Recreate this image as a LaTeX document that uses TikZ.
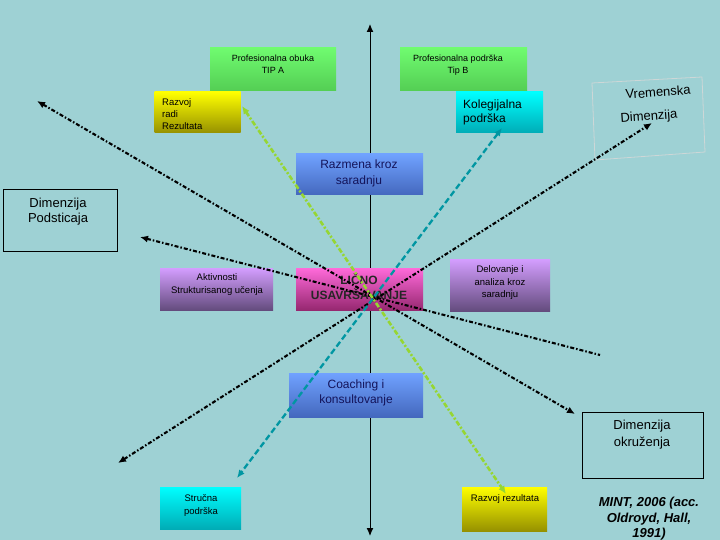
\documentclass[tikz,border=0pt]{standalone}
\usepackage{fontspec}
\setmainfont{Liberation Sans}
\usepackage{tikz}
\usetikzlibrary{arrows.meta,positioning}
\definecolor{bg}{RGB}{158,209,212}
\definecolor{grntop}{RGB}{112,252,112}
\definecolor{grnbot}{RGB}{84,206,84}
\definecolor{yeltop}{RGB}{255,255,0}
\definecolor{yelbot}{RGB}{150,145,0}
\definecolor{cyntop}{RGB}{0,255,255}
\definecolor{cynbot}{RGB}{0,172,182}
\definecolor{blutop}{RGB}{112,162,255}
\definecolor{blubot}{RGB}{68,104,190}
\definecolor{purtop}{RGB}{212,158,255}
\definecolor{purbot}{RGB}{100,76,126}
\definecolor{pnktop}{RGB}{255,106,218}
\definecolor{pnkbot}{RGB}{150,40,112}
\definecolor{limeln}{RGB}{150,214,50}
\definecolor{tealln}{RGB}{0,150,162}
\definecolor{frame}{RGB}{205,215,215}
\definecolor{navy}{RGB}{20,20,90}

\begin{document}
\begin{tikzpicture}[x=1pt, y=-1pt, >={Latex[length=8pt,width=7pt]},
  box/.style={inner sep=0pt, outer sep=0pt},
  grnbox/.style={box, top color=grntop, bottom color=grnbot},
  yelbox/.style={box, top color=yeltop, bottom color=yelbot},
  cynbox/.style={box, top color=cyntop, bottom color=cynbot},
  blubox/.style={box, top color=blutop, bottom color=blubot},
  purbox/.style={box, top color=purtop, bottom color=purbot},
  pnkbox/.style={box, top color=pnktop, bottom color=pnkbot},
  dimbox/.style={box, draw=black, line width=0.8pt},
  txt/.style={anchor=north, inner sep=0pt, align=center},
  dimln/.style={line width=2.1pt, dash pattern=on 4pt off 2pt on 1.5pt off 2pt},
]
  % background
  \fill[bg] (0,0) rectangle (720,540);
  \useasboundingbox (0,0) rectangle (720,540);
  % vertical axis
  \coordinate (vtop) at (370,24);
  \coordinate (vbot) at (370,536);
  \draw[line width=1pt, <->] (vtop) -- (vbot);
  % boxes
  \node[grnbox, minimum width=126pt, minimum height=43pt] (obuka) at (273,69) {};
  \node[txt, font=\fontsize{9}{12}\selectfont] (obukat) at (273,54.7) {Profesionalna obuka\\TIP A};
  \node[grnbox, minimum width=127pt, minimum height=43pt] (podrska) at (463.5,69) {};
  \node[txt, font=\fontsize{9}{12}\selectfont] (podrskat) at (458,54.7) {Profesionalna podrška\\Tip B};
  \node[yelbox, minimum width=86pt, minimum height=41pt] (razvojradi) at (197.5,112.5) {};
  \node[txt, anchor=north west, align=left, font=\fontsize{9.5}{12}\selectfont] (razvojradit) at (162,98.5) {Razvoj\\radi\\Rezultata};
  \node[cynbox, minimum width=87pt, minimum height=41pt] (kolegij) at (499.5,112.5) {};
  \node[txt, anchor=north west, align=left, font=\fontsize{12}{14}\selectfont] (kolegijt) at (463,99.6) {Kolegijalna\\podrška};
  \node[blubox, minimum width=127pt, minimum height=41pt] (razmena) at (359.5,174.5) {};
  \node[txt, text=navy, font=\fontsize{12}{16}\selectfont] (razmenat) at (359,159.6) {Razmena kroz\\saradnju};
  \node[dimbox, minimum width=114pt, minimum height=62pt] (podst) at (60,220) {};
  \node[txt, font=\fontsize{13}{14.5}\selectfont] (podstt) at (58,198) {Dimenzija\\Podsticaja};
  \node[purbox, minimum width=113pt, minimum height=42pt] (aktiv) at (216.5,289) {};
  \node[txt, font=\fontsize{9.5}{13}\selectfont] (aktivt) at (217,273.5) {Aktivnosti\\Strukturisanog učenja};
  \node[pnkbox, minimum width=127pt, minimum height=42pt] (licno) at (359.5,289) {};
  \node[txt, text=black!85, font=\bfseries\fontsize{12}{15}\selectfont] (licnot) at (359,273.6) {LIČNO\\USAVRŠAVANJE};
  \node[purbox, minimum width=100pt, minimum height=52pt] (delov) at (500,285) {};
  \node[txt, font=\fontsize{9.5}{12.5}\selectfont] (delovt) at (500,265.5) {Delovanje i\\analiza kroz\\saradnju};
  \node[blubox, minimum width=134pt, minimum height=44pt] (coach) at (356,395) {};
  \node[txt, text=navy, font=\fontsize{12}{15}\selectfont] (coacht) at (356,379.6) {Coaching i\\konsultovanje};
  \node[dimbox, minimum width=121pt, minimum height=66pt] (okruz) at (642.5,445) {};
  \node[txt, font=\fontsize{13}{17}\selectfont] (okruzt) at (642,420) {Dimenzija\\okruženja};
  \node[cynbox, minimum width=81pt, minimum height=42pt] (strucna) at (200.5,508) {};
  \node[txt, font=\fontsize{9.5}{13}\selectfont] (strucnat) at (201,494.5) {Stručna\\podrška};
  \node[yelbox, minimum width=85pt, minimum height=44pt] (razvojrez) at (504.5,509) {};
  \node[txt, font=\fontsize{9.5}{13}\selectfont] (razvojrezt) at (505,494.5) {Razvoj rezultata};
  % time dimension frame
  \draw[frame, line width=0.8pt] (592,83) -- (702,77) -- (705,152) -- (595,160) -- cycle;
  \node[inner sep=0pt, rotate=4, font=\fontsize{13}{15}\selectfont] (vremt) at (658,92) {Vremenska};
  \node[inner sep=0pt, rotate=4, font=\fontsize{13}{15}\selectfont] (dimt) at (649,117) {Dimenzija};
  % source
  \node[txt, font=\bfseries\itshape\fontsize{13}{15.5}\selectfont] (mint) at (649,497) {MINT, 2006 (acc.\\Oldroyd, Hall,\\1991)};
  % dimension lines
  \coordinate (nw) at (37,101);
  \coordinate (se) at (575,414);
  \coordinate (w) at (140,237);
  \coordinate (e) at (600,355);
  \coordinate (sw) at (118,463);
  \coordinate (ne) at (652,123);
  \coordinate (gtop) at (242,106);
  \coordinate (gbot) at (506,494);
  \coordinate (ttop) at (502,128);
  \coordinate (tbot) at (237,478);
  \draw[dimln, <->] (nw) -- (se);
  \draw[dimln, <-] (w) -- (e);
  \draw[dimln, <->] (sw) -- (ne);
  \draw[limeln, line width=2.6pt, dash pattern=on 5pt off 2pt on 2pt off 2pt, <->] (gtop) -- (gbot);
  \draw[tealln, line width=2.3pt, dash pattern=on 6pt off 3pt, <->] (ttop) -- (tbot);
\end{tikzpicture}
\end{document}
